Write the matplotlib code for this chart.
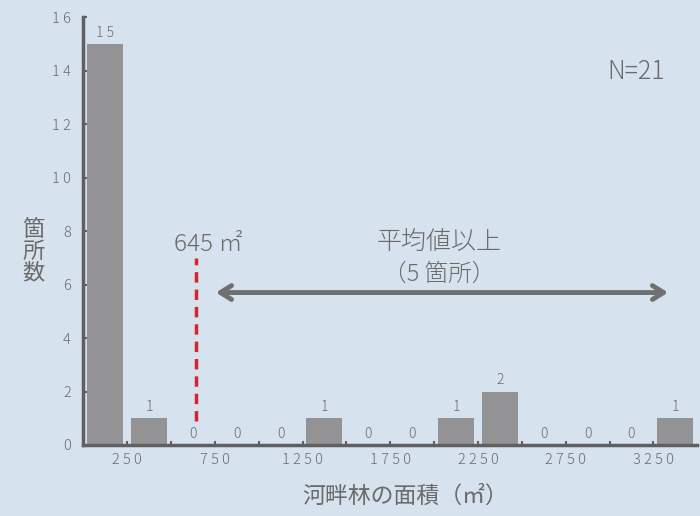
import numpy as np
import matplotlib.pyplot as plt

plt.rcParams['font.family'] = ['Noto Sans CJK JP', 'DejaVu Sans']
plt.rcParams['font.weight'] = 'light'

# データ
bin_edges = np.arange(0, 3750, 250)
counts = [15, 1, 0, 0, 0, 1, 0, 0, 1, 2, 0, 0, 0, 1]
tick_labels = ['2 5 0', '7 5 0', '1 2 5 0', '1 7 5 0', '2 2 5 0', '2 7 5 0', '3 2 5 0']
tick_pos = [250, 750, 1250, 1750, 2250, 2750, 3250]
mean_area = 645
n_total = 21

bg = '#d6e2ee'
bar_col = '#939395'
txt_col = '#6a6a6a'
axis_col = '#606060'

fig = plt.figure(figsize=(7, 5.16), dpi=100, facecolor=bg)
ax = fig.add_axes([0.119, 0.1376, 0.877, 0.8294])
ax.set_facecolor(bg)

centers = bin_edges[:-1] + 125
counts = np.array(counts)
nz = counts > 0
ax.bar(centers[nz], counts[nz], width=205, color=bar_col, zorder=2)
ax.bar(centers[~nz], counts[~nz], width=205, color=bar_col,
       edgecolor='#a8a8aa', linewidth=1.5, zorder=2)

for c, v in zip(centers, counts):
    ax.text(c, v + 0.15, ' '.join(str(v)), ha='center', va='bottom',
            fontsize=10, color=txt_col)

ax.set_xlim(0, 3500)
ax.set_ylim(0, 16)
ax.set_yticks(range(0, 17, 2))
ax.set_yticklabels([' '.join(str(t)) for t in range(0, 17, 2)])
ax.set_xticks(bin_edges[1:-1], minor=True)
ax.set_xticks(tick_pos)
ax.set_xticklabels(tick_labels)
ax.tick_params(axis='both', colors=axis_col, labelcolor=txt_col, labelsize=10.5,
               length=3, width=1.5, direction='in')
ax.tick_params(axis='x', which='minor', length=3, width=1.5, direction='in',
               colors=axis_col)
ax.tick_params(axis='x', pad=6)
ax.tick_params(axis='y', pad=9)

for s in ['top', 'right']:
    ax.spines[s].set_visible(False)
for s in ['left', 'bottom']:
    ax.spines[s].set_color(axis_col)
    ax.spines[s].set_linewidth(2.5)

ax.set_xlabel('河畔林の面積（㎡）', fontsize=16.5, color=txt_col, va='center')
ax.xaxis.set_label_coords(0.524, -0.121)
ax.set_ylabel('箇\n所\n数', fontsize=16, color=txt_col, rotation=0,
              va='center', linespacing=0.95)
ax.yaxis.set_label_coords(-0.081, 0.453)

# 平均値ライン
ax.plot([mean_area, mean_area], [0.9, 7.0], color='#d9232e', lw=2.5,
        linestyle=(0, (3, 2)), zorder=3)
ax.text(mean_area + 65, 7.5, '645 ㎡', ha='center', va='center',
        fontsize=17.5, color=txt_col)

# 矢印
ax.annotate('', xy=(740, 5.7), xytext=(3350, 5.7),
            arrowprops=dict(arrowstyle='<->,head_length=0.8,head_width=0.5',
                            color='#707070', lw=3.5))
ax.text(2030, 7.6, '平均値以上', ha='center', va='center', fontsize=18,
        color=txt_col)
ax.text(2030, 6.4, '（5 箇所）', ha='center', va='center', fontsize=17,
        color=txt_col)

ax.text(3150, 13.94, f'N={n_total}', ha='center', va='center', fontsize=18,
        color=txt_col)

fig.savefig('out.png', dpi=100, facecolor=bg)
